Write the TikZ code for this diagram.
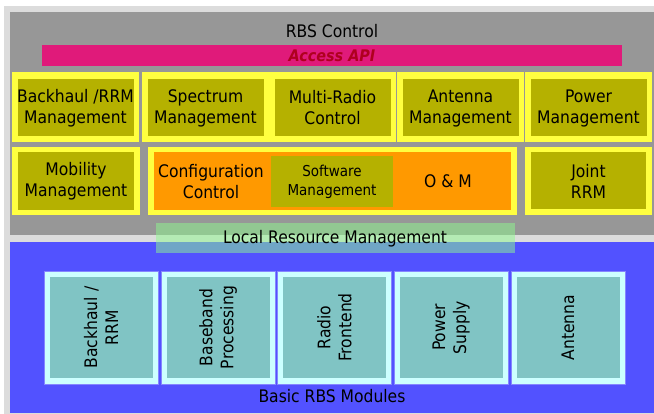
\documentclass[tikz,border=0pt]{standalone}
\usepackage{fontspec}
\setmainfont{DejaVu Sans Condensed}
\definecolor{lgray}{RGB}{220,220,220}
\definecolor{dgray}{RGB}{151,151,151}
\definecolor{pinkbar}{RGB}{224,26,122}
\definecolor{apired}{RGB}{175,0,30}
\definecolor{yel}{RGB}{255,255,64}
\definecolor{olive}{RGB}{181,177,0}
\definecolor{orng}{RGB}{255,153,0}
\definecolor{bluep}{RGB}{82,82,255}
\definecolor{lcyan}{RGB}{204,255,255}
\definecolor{teal2}{RGB}{128,196,196}
\definecolor{lgreen}{RGB}{142,250,142}
\begin{document}
\begin{tikzpicture}[x=1pt,y=-1pt,
  every node/.style={inner sep=0pt,outer sep=0pt},
  txt/.style={font=\fontsize{17.3}{21}\selectfont,align=center,text=black},
  ybox/.style={fill=yel,minimum width=#1,minimum height=68},
  obox/.style={fill=olive,minimum width=#1,minimum height=57},
  modout/.style={fill=lcyan,draw=bluep!70!white,line width=0.4pt,minimum width=114,minimum height=113},
  modin/.style={fill=teal2,minimum width=103,minimum height=101},
  rot/.style={txt,rotate=90}]
\useasboundingbox (0,0) rectangle (654,414);
\fill[white] (0,0) rectangle (654,414);
\fill[lgray] (4,6) rectangle (654,414);
% panels
\node[fill=dgray,minimum width=644,minimum height=223] (ctrl) at (332,123.5) {};
\node[fill=bluep,minimum width=644,minimum height=171] (basic) at (332,327.5) {};
\node[txt] (rbsc) at (332,31) {RBS Control};
\node[fill=pinkbar,minimum width=580,minimum height=21] (api) at (332,55.5) {};
\node[font=\fontsize{16}{18}\selectfont\bfseries\itshape,text=apired] (apit) at (332,56) {Access API};
% row 1
\foreach \n/\cx/\t in {r1a/75.5/{Backhaul /RRM\\Management},
                       r1b/205.5/{Spectrum\\Management},
                       r1c/332.5/{Multi-Radio\\Control},
                       r1d/460.5/{Antenna\\Management},
                       r1e/588.5/{Power\\Management}}{
  \node[ybox=127,minimum height=70] (\n) at (\cx,107) {};
  \node[obox=116] (\n i) at (\cx,107.5) {};
  \node[txt] (\n t) at (\cx,108) {\t};
}
% row 2
\node[ybox=128] (mob) at (76,181) {};
\node[obox=116,minimum height=58] (mobi) at (76,181) {};
\node[txt] (mobt) at (76,181.5) {Mobility\\Management};
\node[ybox=369] (cfg) at (332.5,181) {};
\node[fill=orng,minimum width=357,minimum height=58] (cfgi) at (332.5,181) {};
\node[txt] (cfgt) at (211,181.5) {Configuration\\Control};
\node[obox=122,minimum height=51] (sw) at (332,181.5) {};
\node[txt,font=\fontsize{15}{19}\selectfont] (swt) at (332,181.5) {Software\\Management};
\node[txt] (om) at (448,181) {O \& M};
\node[ybox=127] (joint) at (588.5,181) {};
\node[obox=115] (jointi) at (588.5,180.5) {};
\node[txt] (jointt) at (588.5,181) {Joint\\RRM};
% local resource management
\node[fill=lgreen,fill opacity=0.5,minimum width=359,minimum height=30] (lrm) at (335.5,238) {};
\node[txt] (lrmt) at (335,238.5) {Local Resource Management};
% modules
\foreach \n/\cx/\t in {m1/101/{Backhaul /\\RRM},
                       m2/218/{Baseband\\Processing},
                       m3/334.5/{Radio\\Frontend},
                       m4/451/{Power\\Supply},
                       m5/568/{Antenna}}{
  \node[modout] (\n) at (\cx,327.5) {};
  \node[modin] (\n i) at (\cx,327.5) {};
  \node[rot] (\n t) at (\cx,327.5) {\t};
}
\node[txt] (basict) at (332,396) {Basic RBS Modules};
\end{tikzpicture}
\end{document}
